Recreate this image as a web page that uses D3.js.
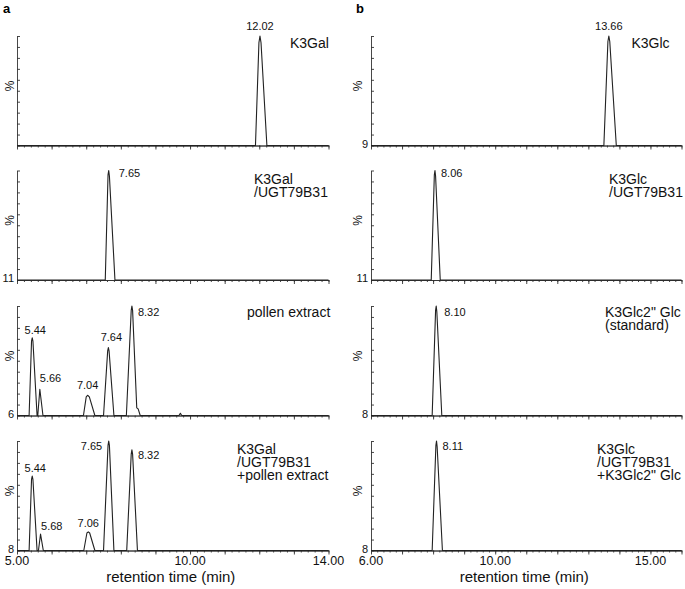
<!DOCTYPE html>
<html>
<head>
<meta charset="utf-8">
<script src="https://cdn.jsdelivr.net/npm/d3@7"></script>
<style>
  body { margin: 0; background: #fff; }
  svg { display: block; font-family: "Liberation Sans", Arial, sans-serif; }
</style>
</head>
<body>
<div id="chart"></div>
<script>
// ---- data: [retention time (min), intensity (%)] ----
var traceK3Gal = [[5.00, 0], [11.89, 0], [11.99, 94], [12.02, 100], [12.05, 94], [12.22, 0], [14.00, 0]];
var traceK3GalUGT = [[5.00, 0], [7.55, 0], [7.63, 96], [7.65, 100], [7.67, 95], [7.83, 0], [14.00, 0]];
var tracePollen = [[5.00, 0], [5.35, 0], [5.42, 68], [5.44, 71], [5.46, 68], [5.58, 0], [5.60, 0], [5.66, 24], [5.75, 0],
  [6.92, 0], [7.00, 17], [7.04, 18.5], [7.09, 17], [7.25, 0], [7.50, 0], [7.62, 59], [7.64, 62], [7.66, 59], [7.80, 0],
  [8.16, 0], [8.30, 96], [8.32, 100], [8.34, 96], [8.46, 7], [8.50, 6], [8.56, 0], [9.68, 0], [9.72, 2], [9.76, 0], [14.00, 0]];
var traceK3GalUGTPollen = [[5.00, 0], [5.35, 0], [5.42, 65], [5.44, 68], [5.46, 65], [5.58, 0], [5.62, 0], [5.68, 15], [5.76, 0],
  [6.93, 0], [7.02, 16], [7.06, 17], [7.10, 16], [7.25, 0], [7.50, 0], [7.63, 96], [7.65, 100], [7.67, 96], [7.80, 0],
  [8.17, 0], [8.30, 88], [8.32, 92], [8.34, 88], [8.48, 0], [14.00, 0]];

var traceK3Glc = [[6.00, 0], [13.50, 0], [13.63, 95], [13.66, 100], [13.69, 95], [13.90, 0], [16.00, 0]];
var traceK3GlcUGT = [[6.00, 0], [7.94, 0], [8.04, 96], [8.06, 100], [8.08, 95], [8.23, 0], [16.00, 0]];
var traceStandard = [[6.00, 0], [7.97, 0], [8.08, 96], [8.10, 100], [8.12, 95], [8.28, 0], [16.00, 0]];
var traceK3GlcUGTStd = [[6.00, 0], [7.97, 0], [8.09, 96], [8.11, 100], [8.13, 95], [8.30, 0], [16.00, 0]];

// labelled peaks per panel: [retention time, intensity]
var peaksK3Gal = [[12.02, 100]];
var peaksK3GalUGT = [[7.65, 100]];
var peaksPollen = [[5.44, 71], [5.66, 24], [7.04, 18.5], [7.64, 62], [8.32, 100]];
var peaksK3GalUGTPollen = [[5.44, 68], [5.68, 15], [7.06, 17], [7.65, 100], [8.32, 92]];
var peaksK3Glc = [[13.66, 100]];
var peaksK3GlcUGT = [[8.06, 100]];
var peaksStandard = [[8.10, 100]];
var peaksK3GlcUGTStd = [[8.11, 100]];

var leftSamples = [["K3Gal"], ["K3Gal", "/UGT79B31"], ["pollen extract"], ["K3Gal", "/UGT79B31", "+pollen extract"]];
var rightSamples = [["K3Glc"], ["K3Glc", "/UGT79B31"], ["K3Glc2\"  Glc", "(standard)"], ["K3Glc", "/UGT79B31", "+K3Glc2\"  Glc"]];
var leftYLabels = ["", "11", "6", "8"];
var rightYLabels = ["9", "11", "8", "8"];
var leftTickLabels = [5, 10, 14];
var rightTickLabels = [6, 10, 15];

// ---- layout ----
var width = 685, height = 589;
var panelTop = [36, 170.5, 306, 441], panelH = 109.5;

// label offsets from each peak apex: [dx, dy, anchor]
var peakLabelPos = {
  a: [
    [[0, -6, "middle"]],
    [[10, 6, "start"]],
    [[3, -4, "middle"], [0, -7, "start"], [0, -6.5, "middle"], [3, -6.5, "middle"], [6, 10, "start"]],
    [[3, -4, "middle"], [0.5, -4, "start"], [0, -4.5, "middle"], [-6.5, 9, "end"], [6, 9, "start"]]
  ],
  b: [
    [[0, -6, "middle"]],
    [[6, 6.5, "start"]],
    [[8, 10, "start"]],
    [[6, 9, "start"]]
  ]
};
// sample label anchor (left x, first baseline)
var samplePos = {
  a: [[290, 48], [254, 183.5], [247, 317], [237, 453.5]],
  b: [[631.5, 48], [609, 183.5], [605, 317], [597, 453.5]]
};

var columns = [
  { key: "a", x0: 17, x1: 328.5, domain: [5, 14], traces: [traceK3Gal, traceK3GalUGT, tracePollen, traceK3GalUGTPollen],
    peaks: [peaksK3Gal, peaksK3GalUGT, peaksPollen, peaksK3GalUGTPollen], samples: leftSamples, ylabels: leftYLabels,
    ticks: leftTickLabels, letterX: 3, pctX: 10 },
  { key: "b", x0: 371, x1: 681.5, domain: [6, 16], traces: [traceK3Glc, traceK3GlcUGT, traceStandard, traceK3GlcUGTStd],
    peaks: [peaksK3Glc, peaksK3GlcUGT, peaksStandard, peaksK3GlcUGTStd], samples: rightSamples, ylabels: rightYLabels,
    ticks: rightTickLabels, letterX: 356, pctX: 358 }
];

var svg = d3.select("#chart").append("svg")
  .attr("width", width)
  .attr("height", height);

columns.forEach(function(col) {
  var x = d3.scaleLinear().domain(col.domain).range([col.x0, col.x1]);

  svg.append("text")
    .attr("x", col.letterX).attr("y", 13)
    .attr("font-size", 13).attr("font-weight", "bold")
    .text(col.key);

  col.traces.forEach(function(trace, r) {
    var top = panelTop[r];
    var y = d3.scaleLinear().domain([0, 100]).range([top + panelH, top]);
    var g = svg.append("g");

    // x axis: major ticks every minute, minor every 0.2 min
    var major = d3.axisBottom(x).tickValues(d3.range(col.domain[0], col.domain[1] + 0.01, 1))
      .tickSize(4).tickSizeOuter(0).tickFormat("");
    var minor = d3.axisBottom(x).tickValues(d3.range(col.domain[0], col.domain[1] + 0.01, 0.2))
      .tickSize(2).tickSizeOuter(0).tickFormat("");
    g.append("g").attr("transform", "translate(0," + y(0) + ")").call(minor);
    g.append("g").attr("transform", "translate(0," + y(0) + ")").call(major);

    // y axis with inward ticks
    var yAxis = d3.axisRight(y).tickValues(d3.range(0, 101, 10)).tickSize(3).tickSizeOuter(0).tickFormat("");
    g.append("g").attr("transform", "translate(" + col.x0 + ",0)").call(yAxis);

    g.selectAll(".domain, .tick line").attr("stroke", "#333").attr("stroke-width", 0.9);

    // chromatogram trace
    var line = d3.line().x(function(d) { return x(d[0]); }).y(function(d) { return y(d[1]); });
    g.append("path").datum(trace)
      .attr("d", line)
      .attr("fill", "none")
      .attr("stroke", "#222")
      .attr("stroke-width", 1.1)
      .attr("stroke-linejoin", "round");

    // peak labels
    var pos = peakLabelPos[col.key][r];
    g.selectAll(".peak").data(col.peaks[r]).enter().append("text")
      .attr("x", function(d, i) { return x(d[0]) + pos[i][0]; })
      .attr("y", function(d, i) { return y(d[1]) + pos[i][1]; })
      .attr("text-anchor", function(d, i) { return pos[i][2]; })
      .attr("font-size", 11)
      .attr("fill", "#111")
      .text(function(d) { return d[0].toFixed(2); });

    // sample label
    var sp = samplePos[col.key][r];
    g.append("g").selectAll("text").data(col.samples[r]).enter().append("text")
      .attr("x", sp[0])
      .attr("y", function(d, i) { return sp[1] + i * 13.4; })
      .attr("font-size", 14)
      .attr("fill", "#111")
      .text(function(d) { return d; });

    // y label and "%" title
    g.append("text")
      .attr("x", col.x0 - 3).attr("y", y(0) + 2)
      .attr("text-anchor", "end").attr("font-size", 11).attr("fill", "#111")
      .text(col.ylabels[r]);
    g.append("text")
      .attr("transform", "translate(" + (col.pctX + 4) + "," + (top + 50) + ") rotate(-90)")
      .attr("text-anchor", "middle").attr("font-size", 12).attr("fill", "#111")
      .text("%");

    // tick labels and axis title on the bottom panel
    if (r === col.traces.length - 1) {
      g.selectAll(".tl").data(col.ticks).enter().append("text")
        .attr("x", function(d) { return x(d); })
        .attr("y", y(0) + 14.5)
        .attr("text-anchor", "middle")
        .attr("font-size", 12.5)
        .attr("fill", "#111")
        .text(function(d) { return d.toFixed(2); });
      g.append("text")
        .attr("x", (col.x0 + col.x1) / 2 - 2).attr("y", 582)
        .attr("text-anchor", "middle").attr("font-size", 15).attr("fill", "#111")
        .text("retention time (min)");
    }
  });
});
</script>
</body>
</html>
